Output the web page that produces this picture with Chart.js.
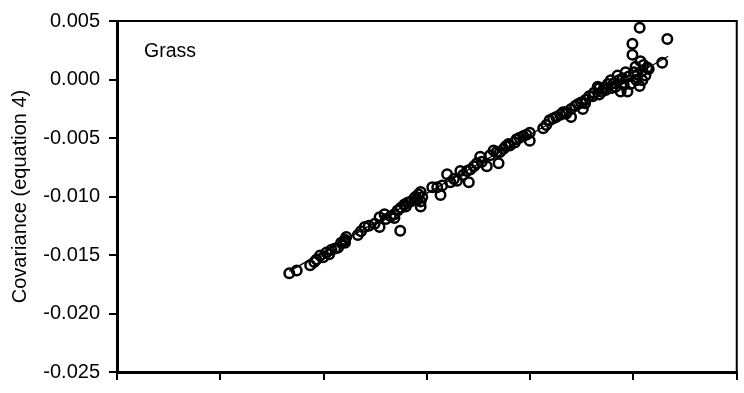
<!DOCTYPE html>
<html>
<head>
<meta charset="utf-8">
<script src="https://cdn.jsdelivr.net/npm/chart.js@4/dist/chart.umd.min.js"></script>
<style>
  html, body { margin: 0; padding: 0; background: #fff; }
  #wrap { width: 744px; height: 393px; }
</style>
</head>
<body>
<div id="wrap"><canvas id="c" width="744" height="393"></canvas></div>
<script>
// Panel label and axis text
const panelLabel = 'Grass';
const yTitle = 'Covariance (equation 4)';

// Axis range and tick spacing (both axes share the same covariance range)
const axisMin = -0.025;
const axisMax = 0.005;
const axisStep = 0.005;

// Observed covariances: x (reference estimate) and y (equation 4)
const covX = [
  -0.01666,-0.01630,-0.01565,-0.01545,-0.01534,-0.01517,-0.01502,-0.01486,-0.01473,-0.01462,
  -0.01444,-0.01430,-0.01415,-0.01397,-0.01396,-0.01390,-0.01401,-0.01334,-0.01319,-0.01301,
  -0.01281,-0.01253,-0.01229,-0.01229,-0.01205,-0.01198,-0.01175,-0.01157,-0.01157,-0.01129,
  -0.01142,-0.01126,-0.01109,-0.01102,-0.01094,-0.01078,-0.01061,-0.01054,-0.01046,-0.01041,
  -0.01030,-0.01030,-0.01030,-0.01022,-0.00974,-0.00950,-0.00934,-0.00926,-0.00902,-0.00886,
  -0.00869,-0.00854,-0.00838,-0.00825,-0.00806,-0.00797,-0.00790,-0.00772,-0.00758,-0.00742,
  -0.00734,-0.00710,-0.00694,-0.00677,-0.00662,-0.00653,-0.00646,-0.00629,-0.00618,-0.00605,
  -0.00598,-0.00574,-0.00566,-0.00551,-0.00533,-0.00518,-0.00502,-0.00502,-0.00437,-0.00422,
  -0.00406,-0.00389,-0.00374,-0.00354,-0.00341,-0.00326,-0.00302,-0.00302,-0.00282,-0.00269,
  -0.00254,-0.00245,-0.00230,-0.00214,-0.00197,-0.00173,-0.00166,-0.00166,-0.00143,-0.00134,
  -0.00124,-0.00110,-0.00095,-0.00086,-0.00077,-0.00071,-0.00062,-0.00052,-0.00038,-0.00029,
  -0.00023,-0.00014,-0.00005,-0.00005, 0.00002, 0.00010, 0.00015, 0.00020, 0.00030, 0.00034,
   0.00043, 0.00043, 0.00049, 0.00067, 0.00074, 0.00058, 0.00030, 0.00139, 0.00164,-0.00047,
  -0.00105,-0.00153,-0.00191,-0.00234,-0.00326
];
const covEq4 = [
  -0.01656,-0.01633,-0.01587,-0.01560,-0.01538,-0.01505,-0.01519,-0.01478,-0.01494,-0.01456,
  -0.01445,-0.01437,-0.01396,-0.01369,-0.01396,-0.01347,-0.01380,-0.01329,-0.01298,-0.01260,
  -0.01249,-0.01233,-0.01260,-0.01178,-0.01151,-0.01192,-0.01168,-0.01151,-0.01184,-0.01293,
  -0.01119,-0.01096,-0.01069,-0.01086,-0.01053,-0.01042,-0.01015,-0.01002,-0.01029,-0.00980,
  -0.00961,-0.01042,-0.01086,-0.01004,-0.00920,-0.00922,-0.00988,-0.00906,-0.00810,-0.00879,
  -0.00851,-0.00865,-0.00783,-0.00816,-0.00783,-0.00879,-0.00769,-0.00742,-0.00715,-0.00661,
  -0.00702,-0.00742,-0.00647,-0.00606,-0.00620,-0.00715,-0.00620,-0.00593,-0.00571,-0.00552,
  -0.00565,-0.00538,-0.00511,-0.00497,-0.00483,-0.00473,-0.00456,-0.00524,-0.00416,-0.00389,
  -0.00348,-0.00334,-0.00320,-0.00301,-0.00279,-0.00293,-0.00320,-0.00252,-0.00227,-0.00211,
  -0.00197,-0.00252,-0.00170,-0.00143,-0.00143,-0.00062,-0.00129,-0.00075,-0.00072,-0.00089,
  -0.00039,-0.00007,-0.00031,-0.00062, 0.00034,-0.00007,-0.00102, 0.00010, 0.00061,-0.00102,
   0.00026,-0.00039, 0.00306, 0.00211, 0.00061, 0.00108,-0.00007, 0.00042, 0.00443, 0.00157,
   0.00075,-0.00007, 0.00124, 0.00102, 0.00089, 0.00034,-0.00056, 0.00143, 0.00347,-0.00048,
  -0.00072,-0.00105,-0.00113,-0.00203,-0.00277
];

// Fitted trend line end points
const trendX = [-0.01666, 0.00168];
const trendY = [-0.01640, 0.00198];

const FONT = '"Liberation Sans", Arial, Helvetica, sans-serif';
Chart.defaults.color = '#000';
Chart.defaults.font.family = FONT;

const points = covX.map((x, i) => ({ x: x, y: covEq4[i] }));
const trend = trendX.map((x, i) => ({ x: x, y: trendY[i] }));

// Top/right frame lines and the panel label inside the plot
const frameAndLabel = {
  id: 'frameAndLabel',
  afterDraw(chart) {
    const { ctx, chartArea: a } = chart;
    ctx.save();
    ctx.strokeStyle = '#000';
    ctx.lineWidth = 2;
    ctx.beginPath();
    ctx.moveTo(a.left, a.top);
    ctx.lineTo(a.right, a.top);
    ctx.lineTo(a.right, a.bottom);
    ctx.stroke();
    ctx.fillStyle = '#000';
    ctx.font = '19.5px ' + FONT;
    ctx.textBaseline = 'alphabetic';
    ctx.fillText(panelLabel, a.left + 27, a.top + 36);
    ctx.restore();
  }
};

new Chart(document.getElementById('c'), {
  type: 'scatter',
  data: {
    datasets: [
      {
        data: trend,
        showLine: true,
        borderColor: '#000',
        borderWidth: 1.2,
        pointRadius: 0,
        order: 2
      },
      {
        data: points,
        pointStyle: 'circle',
        pointRadius: 4.75,
        pointBorderWidth: 2.5,
        borderColor: '#000',
        backgroundColor: 'rgba(0,0,0,0)',
        order: 1
      }
    ]
  },
  options: {
    responsive: false,
    animation: false,
    devicePixelRatio: 1,
    layout: { padding: { top: 18, right: 2, left: 0, bottom: 0 } },
    plugins: {
      legend: { display: false },
      tooltip: { enabled: false },
      title: { display: false }
    },
    scales: {
      x: {
        type: 'linear',
        min: axisMin,
        max: axisMax,
        ticks: { display: false, stepSize: axisStep },
        grid: { drawOnChartArea: false, drawTicks: true, tickLength: 8, color: '#000', lineWidth: 2 },
        border: { display: true, color: '#000', width: 3 },
        afterFit(scale) { scale.height = 9; }
      },
      y: {
        type: 'linear',
        min: axisMin,
        max: axisMax,
        ticks: {
          stepSize: axisStep,
          padding: 9,
          color: '#000',
          font: { size: 20, family: FONT },
          callback: (v) => (Math.abs(v) < 1e-12 ? 0 : v).toFixed(3)
        },
        grid: { drawOnChartArea: false, drawTicks: true, tickLength: 8, color: '#000', lineWidth: 2 },
        border: { display: true, color: '#000', width: 3 },
        title: {
          display: true,
          text: yTitle,
          color: '#000',
          font: { size: 20, family: FONT },
          padding: { top: 8, bottom: 0 }
        },
        afterFit(scale) { scale.width = 117; }
      }
    }
  },
  plugins: [frameAndLabel]
});
</script>
</body>
</html>
